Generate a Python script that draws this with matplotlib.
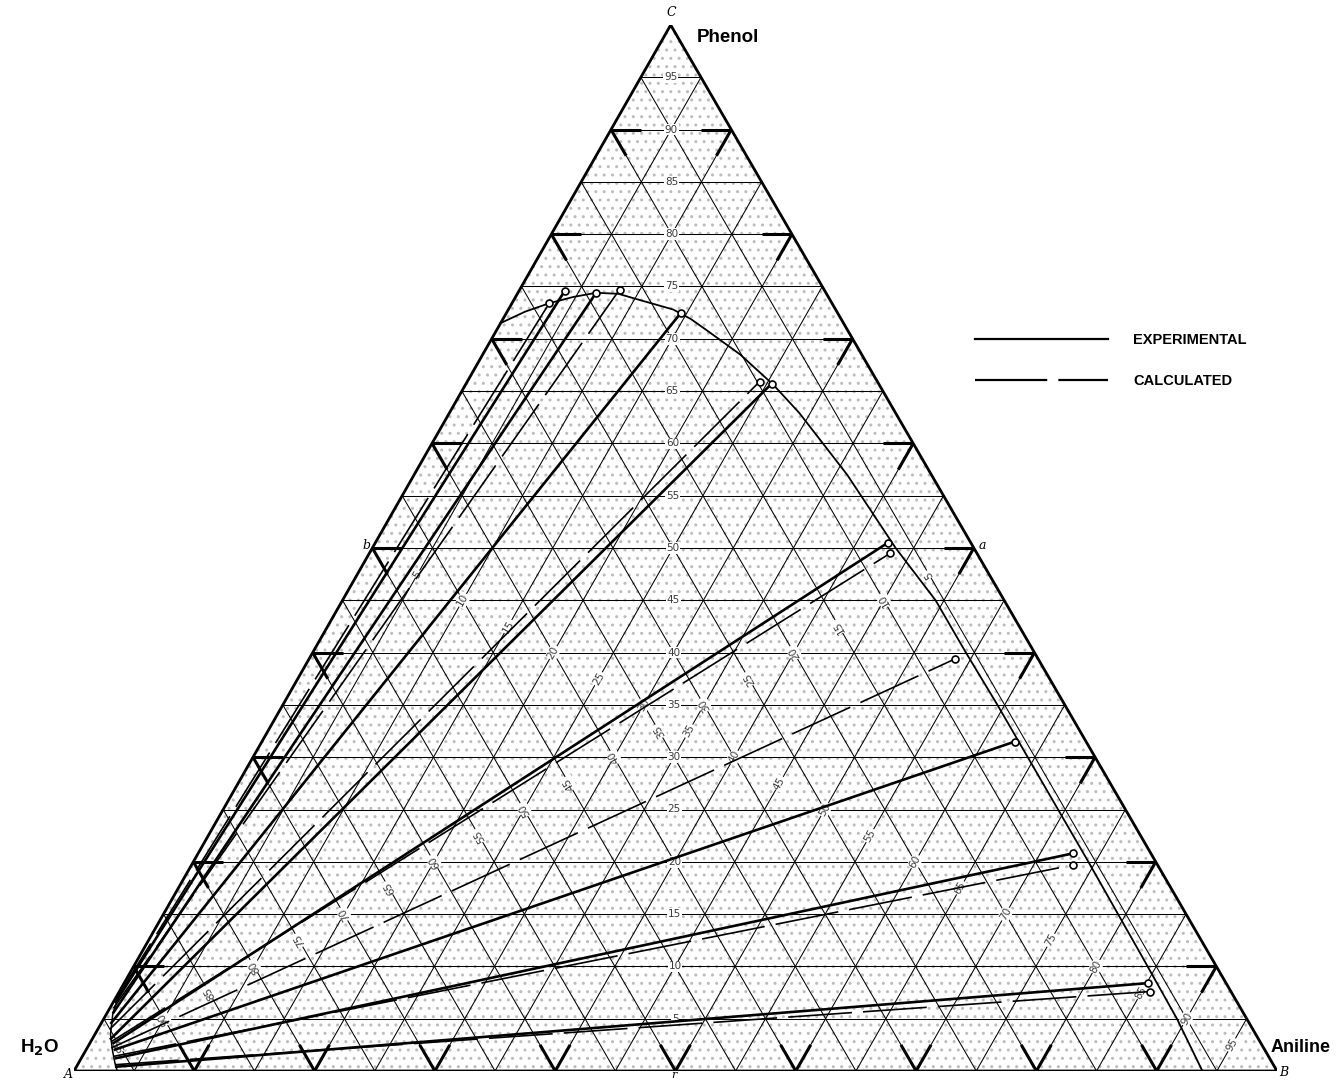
import numpy as np
import matplotlib
matplotlib.use("Agg")
import matplotlib.pyplot as plt
from matplotlib.lines import Line2D

plt.rcParams['lines.scale_dashes'] = False

# ---------------- data (percent phenol p, percent aniline n) ----------------
grid_steps = list(range(5, 100, 5))
label_values = list(range(5, 100, 5))

# binodal curve: phenol-rich arc and aniline-rich branch
binodal_p = [71.5, 72.6, 73.4, 74.0, 74.4, 74.3, 73.7, 72.8, 71.9, 70.8, 68.5, 65.6, 62.9,
             57.0, 50.0, 45.0, 40.0, 35.0, 30.0, 20.0, 11.0, 5.0, 0.0]
binodal_n = [0.0, 1.5, 3.1, 4.8, 6.5, 8.4, 10.5, 13.7, 15.6, 17.5, 21.4, 25.6, 29.1,
             36.0, 43.5, 49.3, 54.3, 59.4, 64.4, 74.4, 83.3, 89.2, 93.8]
# water-rich branch
water_branch_p = [8.0, 5.5, 3.5, 2.0, 0.8, 0.0]
water_branch_n = [0.0, 0.5, 1.3, 2.2, 3.0, 3.6]

# experimental tie lines: water-rich end -> organic-rich end
exp_w_p = [6.5, 5.5, 4.5, 3.0, 2.6, 2.0, 1.2, 0.4]
exp_w_n = [0.2, 0.5, 0.8, 1.5, 1.9, 2.3, 2.8, 3.2]
exp_o_p = [74.6, 74.4, 72.5, 65.7, 50.5, 31.5, 20.8, 8.4]
exp_o_n = [3.8, 6.5, 14.5, 25.4, 42.6, 62.6, 72.7, 85.1]

# calculated tie lines
calc_w_p = [7.0, 6.0, 4.0, 2.8, 2.2, 1.4, 0.6]
calc_w_n = [0.1, 0.3, 1.0, 1.7, 2.0, 2.6, 3.1]
calc_o_p = [73.4, 74.7, 65.9, 49.5, 39.4, 19.7, 7.6]
calc_o_n = [3.1, 8.3, 24.3, 43.3, 53.7, 73.3, 85.7]

CX = 0.496  # horizontal offset of the apex (skew of the printed triangle)


def proj(p, n):
    p = np.asarray(p, float)
    n = np.asarray(n, float)
    return n + CX * p, p


fig = plt.figure(figsize=(13.36, 10.81), dpi=100)
ax = fig.add_axes([74 / 1336, 10 / 1081, 1203 / 1336, 1046 / 1081])
ax.set_xlim(0, 100)
ax.set_ylim(0, 100)
ax.axis('off')


def seg(p0, n0, p1, n1, **kw):
    x, y = proj([p0, p1], [n0, n1])
    ax.plot(x, y, solid_capstyle='butt', **kw)


# stipple-like background
tx, ty = proj([0, 0, 100, 0], [0, 100, 0, 0])
ax.fill(tx, ty, facecolor='none', edgecolor='#bdbdbd', hatch='..', linewidth=0, zorder=0)

# grid
glw = 0.75
for v in grid_steps:
    seg(v, 0, v, 100 - v, color='black', lw=glw, zorder=1)            # constant phenol
    seg(0, v, 100 - v, v, color='black', lw=glw, zorder=1)            # constant aniline
    seg(0, 100 - v, 100 - v, 0, color='black', lw=glw, zorder=1)      # constant water

# bold ticks every 10 %
blw = 2.2
tk = 2.5
for v in range(10, 100, 10):
    # left edge (p=v, n=0)
    seg(v, 0, v, tk, color='black', lw=blw, zorder=2)
    seg(v, 0, v - tk, tk, color='black', lw=blw, zorder=2)
    # bottom edge (p=0, n=v)
    seg(0, v, tk, v, color='black', lw=blw, zorder=2)
    seg(0, v, tk, v - tk, color='black', lw=blw, zorder=2)
    # right edge (p=v, n=100-v)
    seg(v, 100 - v, v, 100 - v - tk, color='black', lw=blw, zorder=2)
    seg(v, 100 - v, v - tk, 100 - v, color='black', lw=blw, zorder=2)

# triangle border
ax.plot(tx, ty, color='black', lw=2.0, zorder=3, solid_joinstyle='miter')

# scale labels along the three medians
def screen_angle(dx, dy):
    p0 = ax.transData.transform((0, 0))
    p1 = ax.transData.transform((dx, dy))
    return np.degrees(np.arctan2(p1[1] - p0[1], p1[0] - p0[0]))

ang_ac = screen_angle(CX * 100, 100)
ang_bc = screen_angle(CX * 100 - 100, 100)
lab_kw = dict(fontsize=7.5, color='#3a3a3a', ha='center', va='center', zorder=4,
              family='DejaVu Sans',
              bbox=dict(boxstyle='square,pad=0.08', fc='white', ec='none'))
for v in label_values:
    x, y = proj(v, (100 - v) / 2)           # phenol scale
    ax.text(x, y, str(v), rotation=0, **lab_kw)
    x, y = proj((100 - v) / 2, v)           # aniline scale
    ax.text(x, y, str(v), rotation=ang_ac, rotation_mode='anchor', **lab_kw)
    x, y = proj((100 - v) / 2, (100 - v) / 2)   # water scale
    ax.text(x, y, str(v), rotation=ang_bc, rotation_mode='anchor', **lab_kw)

# binodal curve
bx, by = proj(binodal_p, binodal_n)
ax.plot(bx, by, color='black', lw=1.3, zorder=5)
wx, wy = proj(water_branch_p, water_branch_n)
ax.plot(wx, wy, color='black', lw=1.1, zorder=5)

# tie lines
for i in range(len(exp_w_p)):
    seg(exp_w_p[i], exp_w_n[i], exp_o_p[i], exp_o_n[i], color='black', lw=1.9, zorder=6)
for i in range(len(calc_w_p)):
    x, y = proj([calc_w_p[i], calc_o_p[i]], [calc_w_n[i], calc_o_n[i]])
    ax.plot(x, y, color='black', lw=1.2, dashes=(46, 8), zorder=6)

ex, ey = proj(exp_o_p, exp_o_n)
cx_, cy_ = proj(calc_o_p, calc_o_n)
ax.plot(np.r_[ex, cx_], np.r_[ey, cy_], 'o', ms=5, mfc='white', mec='black', mew=1.2, zorder=7,
        clip_on=False)

# vertex / edge letters
serif = dict(family='DejaVu Serif', style='italic', fontsize=9, color='black')
fig.text(671 / 1336, 1 - 12 / 1081, 'C', ha='center', va='center', **serif)
fig.text(68 / 1336, 1 - 1075 / 1081, 'A', ha='center', va='center', **serif)
fig.text(1284 / 1336, 1 - 1073 / 1081, 'B', ha='center', va='center', **serif)
fig.text(366 / 1336, 1 - 546 / 1081, 'b', ha='center', va='center', **serif)
fig.text(982 / 1336, 1 - 546 / 1081, 'a', ha='center', va='center', **serif)
fig.text(674 / 1336, 1 - 1075 / 1081, 'r', ha='center', va='center',
         family='DejaVu Serif', style='italic', fontsize=8, color='black')

# component names
name_kw = dict(family='Liberation Sans', weight='bold', fontsize=13.5, color='black',
               va='center')
fig.text(697 / 1336, 1 - 37 / 1081, 'Phenol', ha='left', **name_kw)
fig.text(20 / 1336, 1 - 1048 / 1081, 'H$_\\mathbf{2}$O', ha='left', **name_kw)
fig.text(1271 / 1336, 1 - 1048 / 1081, 'Aniline', ha='left',
         family='Liberation Sans', weight='bold', fontsize=13, color='black', va='center')

# legend
handles = [Line2D([], [], color='black', lw=1.6),
           Line2D([], [], color='black', lw=1.6, dashes=(52, 8))]
leg = fig.legend(handles, ['EXPERIMENTAL', 'CALCULATED'], loc='upper left',
                 bbox_to_anchor=(975 / 1336, 1 - 333 / 1081), frameon=False,
                 handlelength=9.1, handletextpad=1.75, labelspacing=1.85,
                 borderpad=0, borderaxespad=0,
                 prop=dict(family='Liberation Sans', weight='bold', size=10.5))

fig.savefig('out.png', dpi=100, facecolor='white')
